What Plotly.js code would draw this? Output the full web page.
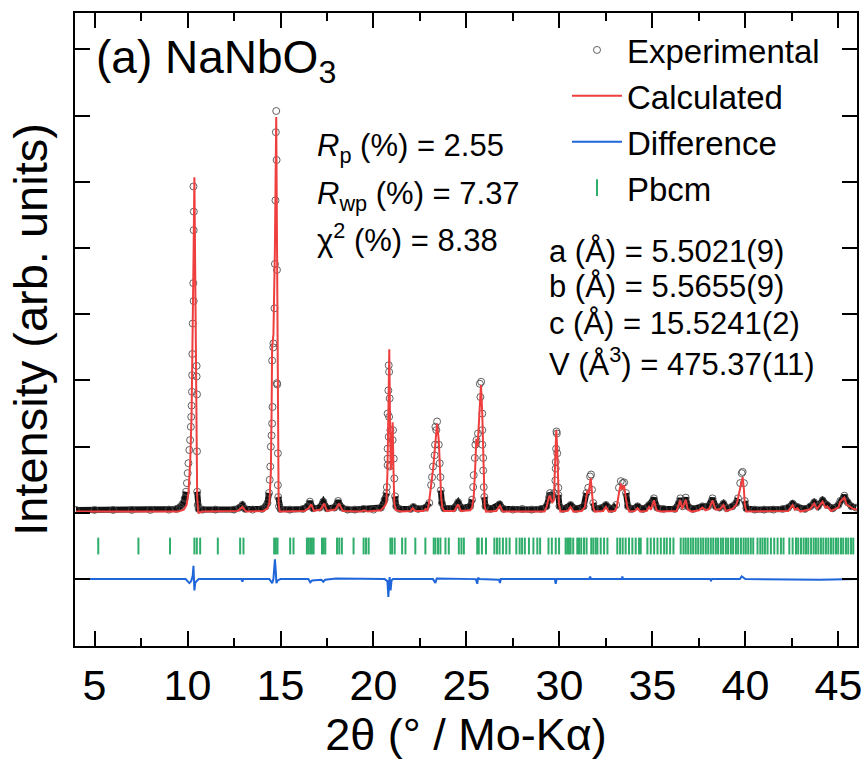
<!DOCTYPE html>
<html>
<head>
<meta charset="utf-8">
<script src="https://cdn.plot.ly/plotly-3.0.1.min.js"></script>
<style>html,body{margin:0;padding:0;background:#fff;}#chart{width:866px;height:763px;}</style>
</head>
<body>
<div id="chart"></div>
<script>
// ---------- data ----------
const twoThetaObs = [4.0,5.0,6.0,7.0,8.0,9.0,9.4,9.6,9.75,9.85,9.92,9.97,10.01,10.05,10.1,10.14,10.18,10.2,10.22,10.24,10.25,10.26,10.28,10.31,10.32,10.33,10.33,10.34,10.49,10.49,10.51,10.51,10.52,10.55,10.6,10.8,11.5,12.5,12.8,12.95,13.1,13.5,14.0,14.2,14.3,14.38,14.42,14.45,14.48,14.52,14.55,14.55,14.57,14.61,14.62,14.68,14.70,14.73,14.75,14.77,14.79,14.81,14.81,14.82,14.86,14.86,14.88,14.92,15.0,15.5,16.2,16.45,16.58,16.75,17.1,17.3,17.5,17.9,18.1,18.3,18.6,19.0,19.45,20.0,20.4,20.6,20.7,20.72,20.76,20.76,20.76,20.76,20.8,20.82,20.82,20.84,20.84,20.87,20.87,20.91,21.03,21.05,21.09,21.12,21.16,21.22,21.4,22.0,22.15,22.4,22.8,23.0,23.1,23.15,23.2,23.29,23.31,23.33,23.38,23.42,23.51,23.56,23.6,23.62,23.68,23.8,24.3,24.55,24.75,25.2,25.3,25.36,25.39,25.45,25.48,25.54,25.62,25.72,25.75,25.79,25.85,25.85,25.85,25.9,25.9,25.93,25.96,26.02,26.3,26.78,27.0,27.5,28.0,28.5,29.0,29.3,29.45,29.49,29.6,29.7,29.78,29.8,29.8,29.82,29.84,29.86,29.88,29.94,29.94,30.0,30.2,30.6,30.9,31.3,31.45,31.55,31.65,31.7,31.75,31.82,31.9,32.2,32.5,32.8,33.05,33.2,33.3,33.4,33.48,33.58,33.68,33.9,34.2,34.5,34.82,35.08,35.25,35.6,36.2,36.42,36.5,36.62,36.79,36.9,37.2,37.69,38.0,38.23,38.4,38.6,38.82,39.0,39.3,39.5,39.6,39.72,39.8,39.85,39.92,39.97,40.05,40.5,41.0,41.5,42.0,42.3,42.54,42.8,43.2,43.5,43.7,43.9,44.15,44.4,44.7,45.0,45.1,45.32,45.5,45.7,45.95];
const intensityObs = [0.045,0.045,0.045,0.045,0.045,0.05,0.06,0.09,0.14,0.22,0.32,0.45,0.6,0.75,0.95,1.1,1.3,1.45,1.62,1.83,2.08,2.4,2.86,3.47,4.93,4.27,3.2,4.55,2.22,2.06,1.79,0.93,0.32,0.12,0.06,0.05,0.05,0.05,0.08,0.12,0.06,0.05,0.06,0.1,0.15,0.3,0.5,0.7,1.0,1.17,1.35,2.3,1.6,2.5,2.56,3.09,3.76,4.72,5.75,6.07,5.33,3.67,1.96,1.94,0.9,0.42,0.24,0.1,0.06,0.05,0.06,0.1,0.17,0.07,0.08,0.17,0.07,0.08,0.18,0.08,0.05,0.05,0.06,0.05,0.08,0.2,0.3,0.39,0.72,0.82,0.97,1.5,1.85,1.15,2.23,1.45,2.13,1.73,0.7,1.25,1.1,1.25,0.82,0.52,0.25,0.1,0.06,0.06,0.09,0.06,0.08,0.15,0.42,0.54,0.7,0.87,1.03,1.3,1.25,1.38,1.03,0.75,0.54,0.34,0.15,0.07,0.07,0.16,0.07,0.1,0.2,0.39,0.57,0.83,1.03,1.1,1.2,1.95,1.75,1.98,1.5,1.25,1.03,0.83,0.64,0.39,0.24,0.1,0.06,0.13,0.06,0.05,0.06,0.05,0.06,0.1,0.24,0.3,0.25,0.3,0.49,0.67,0.77,0.97,1.23,1.2,0.9,0.38,0.27,0.1,0.06,0.12,0.06,0.1,0.3,0.38,0.55,0.58,0.35,0.15,0.07,0.07,0.12,0.06,0.12,0.38,0.48,0.45,0.46,0.3,0.1,0.06,0.1,0.06,0.12,0.22,0.08,0.06,0.06,0.15,0.22,0.1,0.23,0.1,0.06,0.1,0.1,0.22,0.1,0.08,0.14,0.07,0.1,0.15,0.22,0.45,0.6,0.62,0.45,0.18,0.07,0.05,0.05,0.05,0.06,0.08,0.14,0.09,0.06,0.1,0.16,0.1,0.19,0.12,0.07,0.12,0.18,0.26,0.16,0.1,0.08];

const twoThetaCalc = [4.0,9.5,9.8,9.95,10.05,10.15,10.22,10.28,10.33,10.37,10.41,10.45,10.48,10.52,10.57,10.6,10.8,12.7,12.95,13.15,14.1,14.3,14.4,14.48,14.52,14.55,14.62,14.7,14.77,14.8,14.83,14.85,14.87,14.9,14.95,15.2,16.3,16.5,16.65,16.8,17.15,17.35,17.5,17.95,18.15,18.35,19.3,19.5,19.7,20.4,20.6,20.69,20.75,20.8,20.85,20.89,20.93,20.97,21.03,21.08,21.12,21.2,21.5,22.0,22.1,22.25,22.7,22.8,22.9,22.97,23.08,23.15,23.22,23.28,23.33,23.42,23.51,23.56,23.64,23.7,23.8,24.35,24.55,24.7,25.2,25.3,25.39,25.48,25.53,25.6,25.68,25.78,25.85,25.9,25.93,25.98,26.05,26.6,26.8,26.95,29.2,29.31,29.43,29.5,29.6,29.7,29.76,29.8,29.83,29.88,29.94,29.97,30.05,30.45,30.6,30.75,31.2,31.37,31.5,31.58,31.68,31.77,31.82,31.9,32.35,32.5,32.65,33.0,33.08,33.2,33.3,33.38,33.47,33.56,33.65,33.75,34.05,34.2,34.35,34.7,34.82,34.92,35.08,35.22,35.4,36.3,36.49,36.6,36.79,36.9,37.1,37.5,37.69,37.85,38.05,38.23,38.4,38.6,38.82,38.95,39.3,39.5,39.58,39.7,39.85,39.92,39.97,40.05,42.3,42.54,42.65,42.8,42.95,43.45,43.7,43.85,44.15,44.3,44.4,44.6,45.0,45.1,45.32,45.45,45.6,45.8,46.0];
const intensityCalc = [0.02,0.02,0.05,0.12,0.3,0.8,1.5,2.6,4.0,5.07,3.8,2.2,1.0,0.25,0.03,0.0,0.02,0.03,0.09,0.02,0.03,0.07,0.15,0.6,1.5,2.5,2.7,4.0,5.98,4.5,2.8,1.5,0.6,0.15,0.02,0.02,0.03,0.07,0.13,0.03,0.05,0.14,0.03,0.05,0.14,0.03,0.02,0.04,0.02,0.04,0.1,0.15,0.6,1.5,2.47,1.4,0.65,0.8,1.37,0.6,0.15,0.04,0.02,0.03,0.07,0.03,0.03,0.06,0.04,0.12,0.35,0.54,0.7,0.9,1.1,1.35,1.1,0.64,0.24,0.08,0.03,0.03,0.13,0.03,0.04,0.08,0.24,0.75,1.12,1.0,1.4,1.93,1.5,0.85,0.39,0.1,0.02,0.03,0.11,0.02,0.02,0.09,0.24,0.26,0.15,0.19,0.7,1.1,1.25,0.95,0.44,0.14,0.02,0.03,0.09,0.02,0.03,0.09,0.34,0.3,0.53,0.19,0.08,0.02,0.03,0.09,0.02,0.03,0.09,0.3,0.44,0.35,0.42,0.25,0.09,0.02,0.03,0.07,0.02,0.03,0.09,0.05,0.19,0.04,0.02,0.03,0.19,0.06,0.2,0.05,0.02,0.04,0.08,0.04,0.06,0.19,0.05,0.05,0.12,0.03,0.06,0.12,0.19,0.35,0.54,0.35,0.12,0.02,0.03,0.12,0.05,0.07,0.02,0.05,0.14,0.06,0.17,0.08,0.1,0.03,0.08,0.17,0.23,0.12,0.1,0.06,0.05];

const twoThetaDiff = [4.0,9.9,10.0,10.1,10.2,10.28,10.32,10.35,10.37,10.42,10.5,10.6,12.9,12.95,13.0,14.4,14.5,14.55,14.62,14.7,14.75,14.78,14.85,15.0,16.5,16.6,16.7,17.2,17.3,17.4,18.0,20.6,20.75,20.8,20.84,20.87,20.92,20.97,21.05,23.2,23.33,23.4,25.5,25.58,25.62,25.7,26.75,26.8,26.85,28.5,29.75,29.8,29.85,31.6,31.65,31.7,33.35,33.38,33.42,38.1,38.15,38.2,39.7,39.8,39.9,40.0,44.0,45.8,46.0];
const intensityDiff = [0,0,-0.03,-0.06,-0.03,0.05,0.2,0.05,-0.17,-0.05,-0.02,0,0,-0.04,0,0,-0.04,-0.06,0.0,0.3,0.1,-0.06,-0.02,0,0,-0.05,-0.02,-0.01,-0.04,-0.01,0.01,0,-0.03,-0.27,-0.05,0.03,-0.17,-0.02,0,0,-0.06,0.01,0,-0.07,0.02,0,-0.01,-0.06,0,0,0.0,-0.07,0,0,0.04,0,0,0.04,0,0,-0.02,0,0,0.04,0.02,0,-0.01,0,0];

const reflectionsPbcm = [5.20,7.36,9.06,10.37,10.50,10.68,11.63,12.83,13.01,14.66,14.75,14.84,15.52,15.70,16.42,16.51,16.60,16.69,16.78,17.23,17.32,17.41,18.04,18.16,18.30,18.93,19.47,19.60,19.74,20.91,21.00,21.14,21.54,21.72,22.25,22.79,23.24,23.33,23.47,23.60,23.87,24.05,24.59,24.73,24.86,25.58,25.66,25.83,26.05,26.50,26.64,26.78,26.96,27.14,27.32,27.68,27.86,27.99,28.14,28.36,28.60,28.81,28.96,29.41,29.59,29.80,29.98,30.33,30.42,30.51,30.60,30.74,30.96,31.05,31.17,31.32,31.46,31.71,31.82,31.95,32.04,32.22,32.40,32.58,33.11,33.26,33.40,33.56,33.74,33.92,34.10,34.28,34.37,34.73,34.91,35.09,35.27,35.45,35.63,35.77,35.95,36.13,36.52,36.67,36.79,36.92,37.06,37.19,37.33,37.46,37.60,37.73,37.87,38.00,38.14,38.27,38.41,38.53,38.68,38.80,38.95,39.07,39.22,39.34,39.49,39.61,39.76,39.90,40.02,40.15,40.29,40.42,40.65,40.80,40.92,41.05,41.19,41.37,41.55,41.73,41.91,42.05,42.36,42.54,42.72,42.84,42.99,43.13,43.26,43.38,43.53,43.67,43.79,43.92,44.06,44.19,44.33,44.46,44.60,44.73,44.87,44.99,45.14,45.26,45.41,45.53,45.68,45.80];

// ---------- drawing ----------
const FONT = 'Liberation Sans, Arial, Helvetica, sans-serif';
const diffOffset = -1.0;
const tickRow = -0.5;
const bandLimit = 0.35;

const obsBand = intensityObs.map(v => v < bandLimit ? v : null);

const traces = [
  {x: twoThetaObs, y: obsBand, mode: 'lines', showlegend: false, hoverinfo: 'skip',
   line: {color: '#111', width: 6}, connectgaps: false},
  {x: twoThetaObs, y: intensityObs, mode: 'markers', name: 'Experimental',
   marker: {symbol: 'circle-open', size: 7, color: 'rgba(70,70,70,0.85)', line: {width: 1}}},
  {x: twoThetaCalc, y: intensityCalc, mode: 'lines', name: 'Calculated',
   line: {color: '#ef3e3e', width: 2}},
  {x: twoThetaDiff, y: intensityDiff.map(v => v + diffOffset), mode: 'lines', name: 'Difference',
   line: {color: '#1f66db', width: 2}},
  {x: reflectionsPbcm, y: reflectionsPbcm.map(() => tickRow), mode: 'markers', name: 'Pbcm',
   marker: {symbol: 'line-ns-open', size: 12, color: '#2fad6a', line: {width: 2, color: '#2fad6a'}}}
];

const px = v => (v - 75) / 782;
const py = v => 1 - (v - 13) / 633;

const ann = (text, x, y, size, yanchor) => ({
  text, xref: 'paper', yref: 'paper', x: px(x), y: py(y), xanchor: 'left', yanchor: yanchor,
  showarrow: false, font: {family: FONT, size: size, color: '#000'}, borderpad: 0
});

const layout = {
  width: 866, height: 763,
  margin: {l: 75, r: 9, t: 13, b: 117},
  paper_bgcolor: '#fff', plot_bgcolor: '#fff',
  font: {family: FONT, color: '#000'},
  showlegend: true,
  legend: {x: px(567), y: py(22), xanchor: 'left', yanchor: 'top', bgcolor: 'rgba(0,0,0,0)',
           font: {family: FONT, size: 33, color: '#000'}, itemwidth: 50, tracegroupgap: 0},
  xaxis: {
    range: [3.95, 46.0], tick0: 0, dtick: 5, ticks: 'inside', ticklen: 15, tickwidth: 2,
    tickcolor: '#000', showline: true, linewidth: 2, linecolor: '#000', mirror: 'ticks',
    showgrid: false, zeroline: false,
    tickfont: {family: FONT, size: 43, color: '#000'},
    minor: {dtick: 2.5, tick0: 0, ticks: 'inside', ticklen: 8, tickwidth: 2, tickcolor: '#000', showgrid: false},
    title: {text: '2θ (° / Mo-Kα)', font: {family: FONT, size: 45, color: '#000'}, standoff: 5}
  },
  yaxis: {
    range: [-2.01, 7.55], tick0: 0, dtick: 1, ticks: 'inside', ticklen: 15, tickwidth: 2,
    tickcolor: '#000', showline: true, linewidth: 2, linecolor: '#000', mirror: 'ticks',
    showgrid: false, zeroline: false, showticklabels: false,
    title: {text: 'Intensity (arb. units)', font: {family: FONT, size: 47, color: '#000'}, standoff: 11}
  },
  annotations: [
    ann('(a) NaNbO<sub>3</sub>', 95, 30, 46, 'top'),
    ann('<i>R</i><sub>p</sub> (%) = 2.55', 316, 127, 31, 'top'),
    ann('<i>R</i><sub>wp</sub> (%) = 7.37', 316, 175, 31, 'top'),
    ann('χ<sup>2</sup> (%) = 8.38', 316, 259, 31, 'bottom'),
    ann('a (Å) = 5.5021(9)', 548, 233, 31, 'top'),
    ann('b (Å) = 5.5655(9)', 548, 268, 31, 'top'),
    ann('c (Å) = 15.5241(2)', 548, 305, 31, 'top'),
    ann('V (Å<sup>3</sup>) = 475.37(11)', 548, 383, 31, 'bottom')
  ]
};

Plotly.newPlot('chart', traces, layout, {staticPlot: true, displayModeBar: false});
</script>
</body>
</html>
